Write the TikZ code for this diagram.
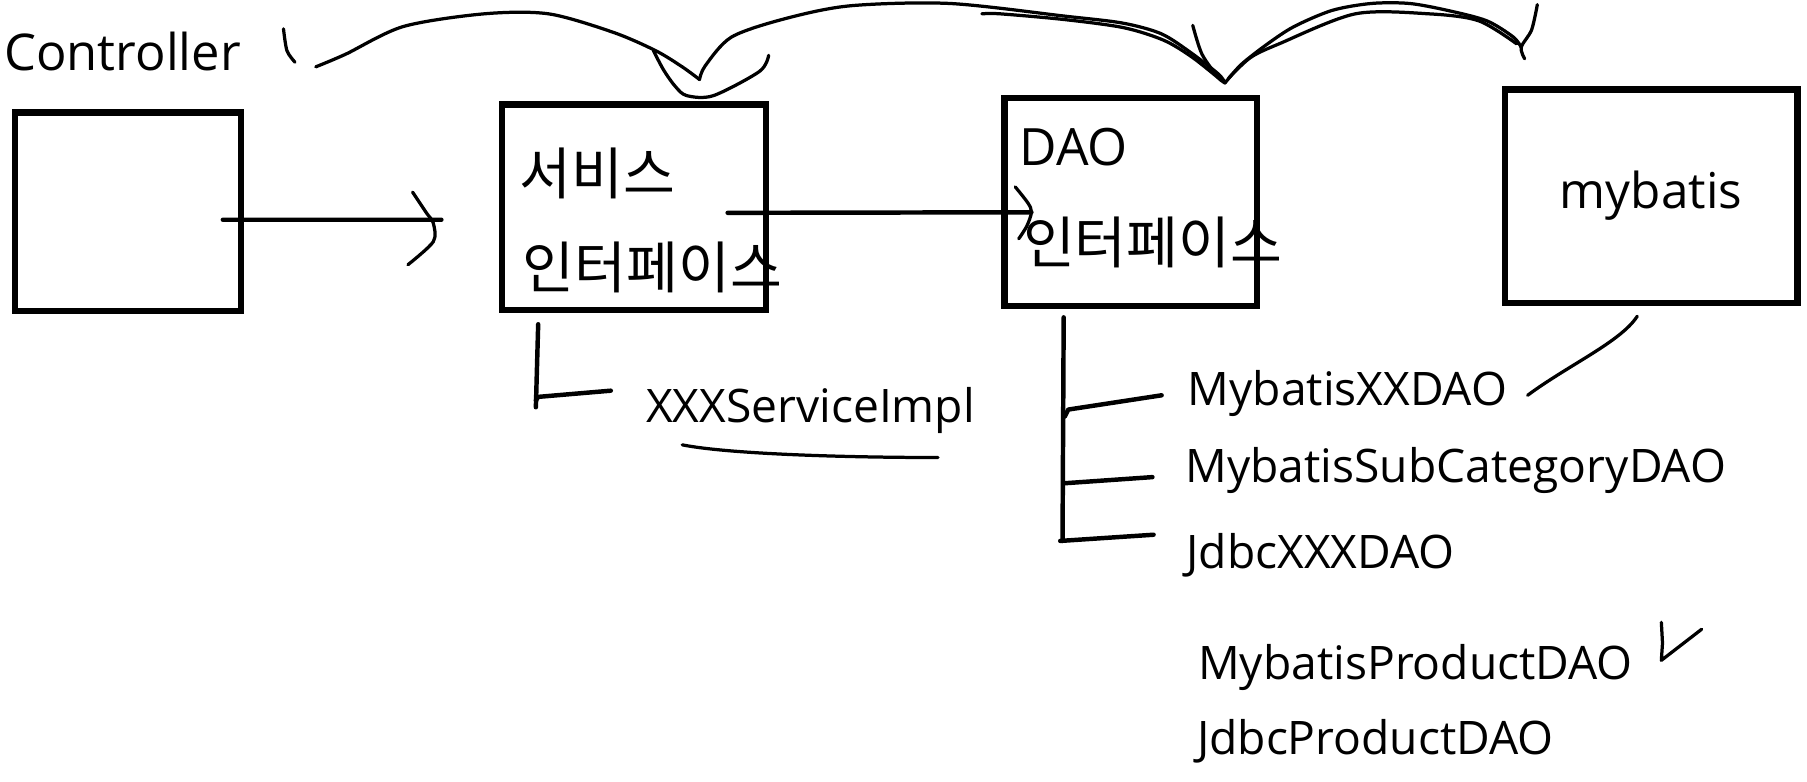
\documentclass[tikz,border=0pt]{standalone}
\usepackage{fontspec}
\setmainfont{Open Sans}
\newfontfamily\kr{Noto Sans CJK KR}
\tikzset{
  blk/.style={draw,line width=1.5pt,inner sep=0pt,anchor=north west},
  lbl/.style={inner sep=0pt,anchor=base west,font=\fontsize{11.4}{14}\selectfont},
  kor/.style={inner sep=0pt,anchor=base west,font=\kr\fontsize{13.9}{16}\selectfont},
  pen/.style={line width=0.8pt,line cap=round,line join=round},
  stem/.style={line width=1.1pt,line cap=round,line join=round}
}
\begin{document}
\begin{tikzpicture}[x=0.01cm,y=-0.01cm]
\useasboundingbox (0,0) rectangle (1568,678);
% boxes
\node[lbl,font=\fontsize{12.5}{15}\selectfont](ctrlText) at (3,61){Controller};
\node[blk,minimum width=1.96cm,minimum height=1.72cm](ctrl) at (10,95){};
\node[blk,minimum width=2.29cm,minimum height=1.78cm](svc) at (433,88){};
\node[blk,minimum width=2.19cm,minimum height=1.81cm](dao) at (869,82){};
\node[blk,minimum width=2.54cm,minimum height=1.85cm,font=\fontsize{12.2}{14}\selectfont](mybatis) at (1303,75){mybatis};
% box texts
\node[kor](svcName) at (450,169){서비스};
\node[kor](svcIf) at (453,250){인터페이스};
\node[lbl,font=\fontsize{12.7}{15}\selectfont](daoName) at (884,144){DAO};
\node[kor](daoIf) at (887,229){인터페이스};
% class names
\node[lbl](impl) at (560,367){XXXServiceImpl};
\node[lbl](mxx) at (1030,352){MybatisXXDAO};
\node[lbl](msub) at (1028,419){MybatisSubCategoryDAO};
\node[lbl](jxxx) at (1029,493){JdbcXXXDAO};
\node[lbl](mprod) at (1039,590){MybatisProductDAO};
\node[lbl](jprod) at (1038,655){JdbcProductDAO};
% calls
\draw[stem]([shift={(-18,7)}]ctrl.east)--([shift={(-50,11)}]svc.west)coordinate(tipA);
\begin{scope}[shift={(tipA)}]
\draw[pen] plot[smooth] coordinates{(-25,-24)(-13,-6)(-7,3)(-7,19)(-29,39)};
\end{scope}
\draw[stem]([shift={(-36,5)}]svc.east)--([shift={(26,9)}]dao.west)coordinate(tipB);
\begin{scope}[shift={(tipB)}]
\draw[pen] plot[smooth] coordinates{(-14,-22)(-3,-8)(0,0)(-4,12)(-11,23)};
\end{scope}
% implementations
\draw[stem]([shift={(34,10)}]svc.south west)--++(-2,72);
\draw[stem]([shift={(32,76)}]svc.south west)--++(2,-3)--([shift={(-30,-28)}]impl.base west);
\draw[pen]([shift={(32,19)}]impl.base west)..controls +(40,8) and +(-80,0)..([shift={(254,30)}]impl.base west);
\draw[stem]([shift={(54,7)}]dao.south west)--++(-1,194);
\draw[stem]([shift={(55,93)}]dao.south west)--++(3,-6)--([shift={(-22,-9)}]mxx.base west);
\draw[stem]([shift={(54,151)}]dao.south west)--([shift={(-28,-5)}]msub.base west);
\draw[stem]([shift={(51,201)}]dao.south west)--([shift={(-28,-29)}]jxxx.base west);
\draw[pen]([shift={(-12,9)}]mybatis.south)..controls +(-14,22) and +(35,-26)..([shift={(17,-9)}]mxx.base east);
\draw[pen]([shift={(24,-50)}]mprod.base east)--++(1,18)--++(-1,15)--++(35,-27);
% scribbles on top
\draw[pen] plot[smooth] coordinates{(246,25)(249,44)(256,54)};
\draw[pen] plot[smooth] coordinates{(274,58)(300,47)(350,23)(420,12)(476,12)(532,28)(569,44)(592,58)(607,69)};
\draw[pen] plot[smooth] coordinates{(567,44)(576,61)(586,75)(596,83)(619,83)(659,62)(667,48)};
\draw[pen] plot[smooth] coordinates{(607,69)(612,57)(635,32)(682,16)(738,5)(824,3)(924,14)(974,20)(1007,29)(1031,44)(1057,64)(1063,72)};
\draw[pen] plot[smooth] coordinates{(852,12)(868,12)(924,17)(975,24)(1010,35)(1035,50)(1060,70)};
\draw[pen] plot[smooth] coordinates{(1035,22)(1043,47)(1057,67)(1063,72)};
\draw[pen] plot[smooth] coordinates{(1063,72)(1077,56)(1100,38)(1123,23)(1156,9)(1190,3)(1223,3)(1256,9)(1290,18)(1313,32)(1320,41)};
\draw[pen] plot[smooth] coordinates{(1066,68)(1085,50)(1110,38)(1176,12)(1240,12)(1283,18)(1316,38)};
\draw[pen] plot[smooth] coordinates{(1334,4)(1329,26)(1320,41)(1323,51)};
\end{tikzpicture}
\end{document}
